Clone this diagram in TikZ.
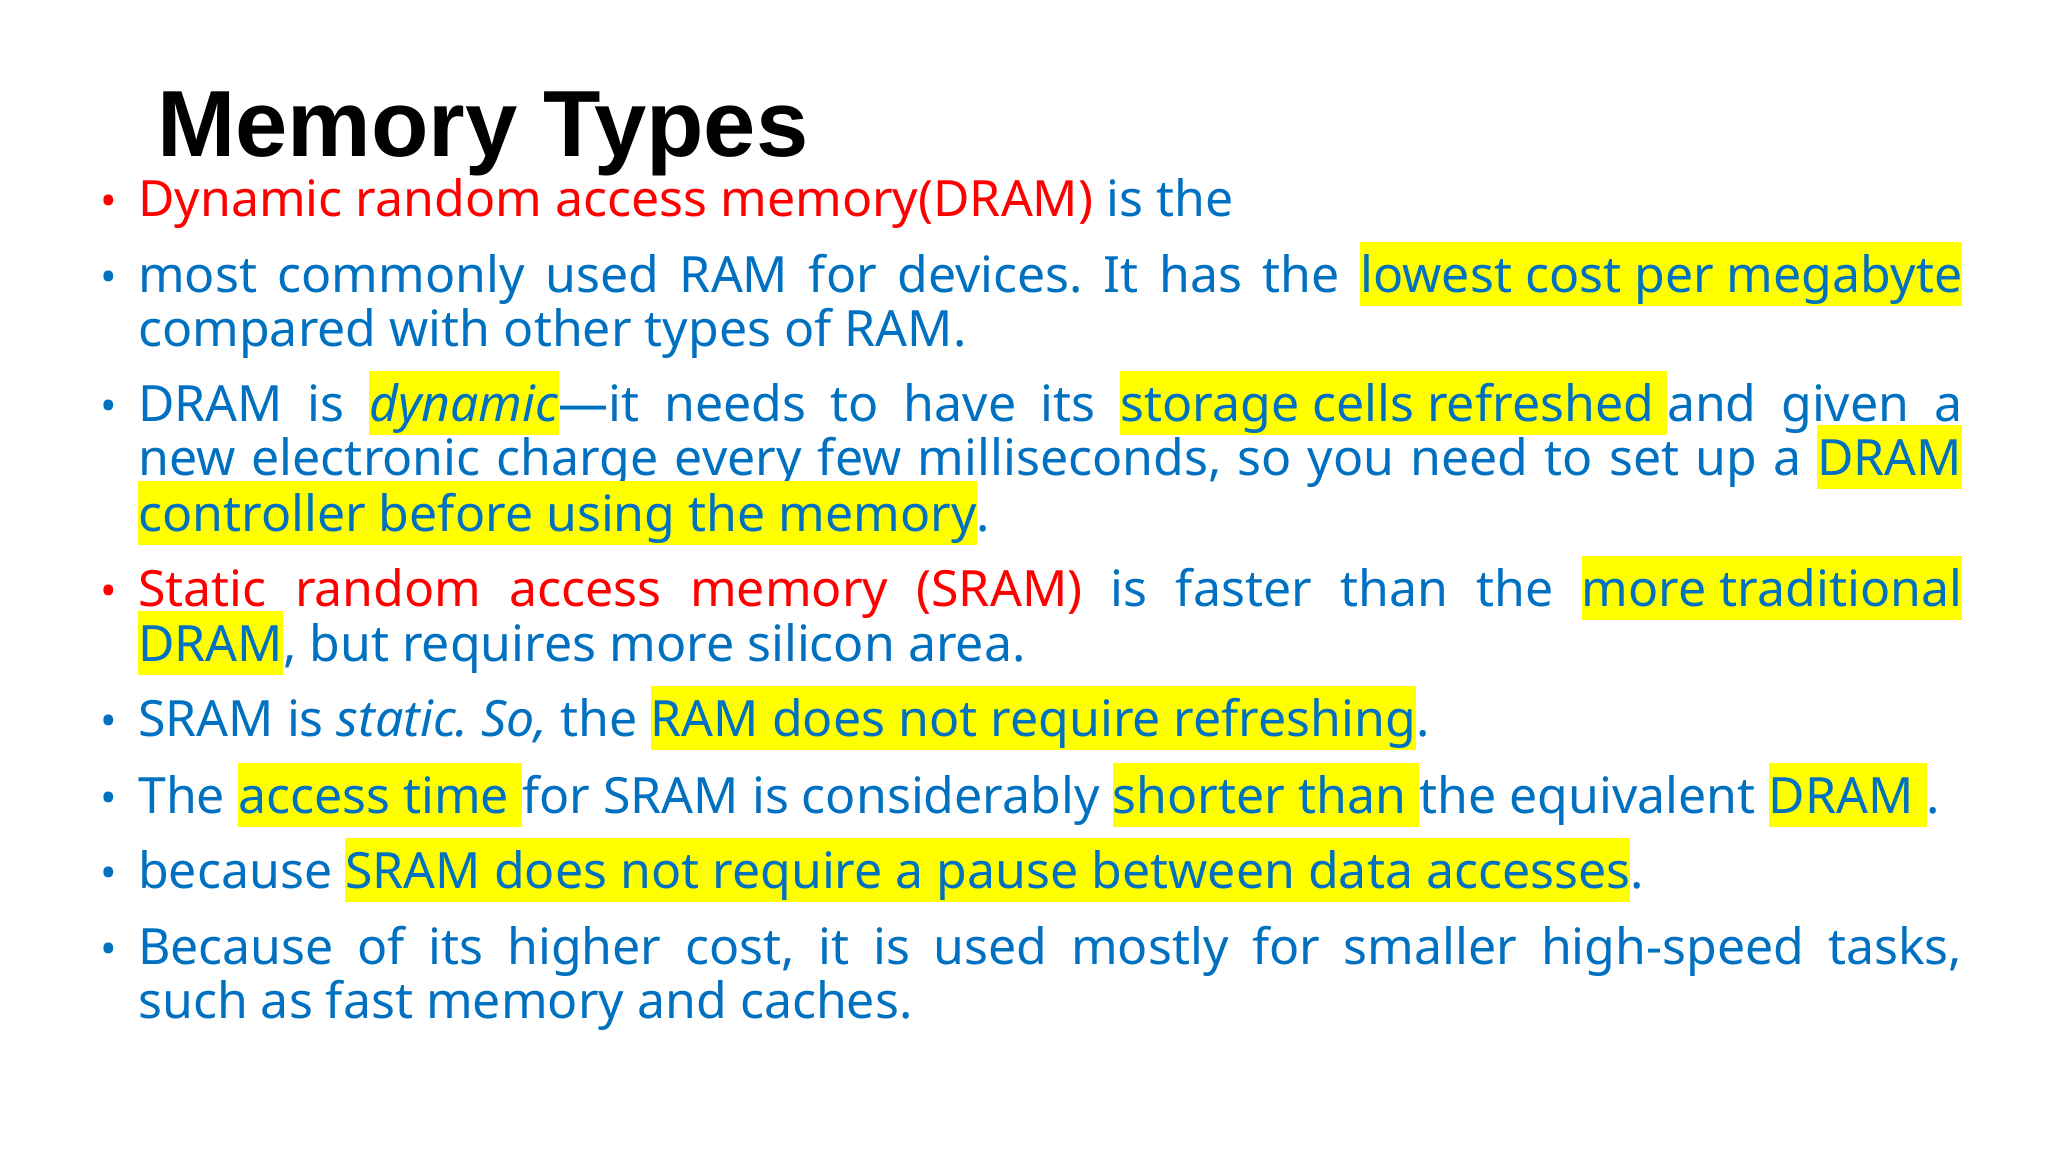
\documentclass[tikz,border=0pt]{standalone}
\usepackage{fontspec}
\setmainfont{Noto Sans}
\newfontfamily\titlefont{Liberation Sans}
\definecolor{tblue}{HTML}{0070C0}
\definecolor{tred}{HTML}{FF0000}
\definecolor{hly}{HTML}{FFFF00}
\newcommand{\hlx}[1]{{\setlength{\fboxsep}{0pt}\colorbox{hly}{\rule[-14bp]{0pt}{64bp}#1}}}
\newcommand{\jl}[1]{\makebox[1824bp][s]{#1}}
\frenchspacing
\begin{document}
\begin{tikzpicture}[x=1bp,y=-1bp,
  ln/.style={anchor=base west,inner sep=0pt,text=tblue,font=\frenchspacing\fontsize{50bp}{58bp}\selectfont},
  bul/.style={anchor=base,inner sep=0pt,font=\fontsize{44bp}{48bp}\selectfont}]
\useasboundingbox (0,0) rectangle (2048,1152);
\node[anchor=base west,inner sep=0pt,font=\titlefont\bfseries\fontsize{94bp}{110bp}\selectfont] (title) at (157,156) {Memory Types};
\foreach \y/\c in {216/tred,292/tblue,421/tblue,606/tred,736/tblue,813/tblue,888/tblue,964/tblue}
  \node[bul,text=\c] at (109,\y) {•};
\node[ln] (l1) at (138,216) {\textcolor{tred}{Dynamic random access memory(DRAM)} is the};
\node[ln] (l2) at (138,292) {\jl{most commonly used RAM for devices. It has the \hlx{lowest cost per megabyte}}};
\node[ln] (l3) at (138,346) {compared with other types of RAM.};
\node[ln] (l4) at (138,421) {\jl{DRAM is \hlx{\textit{dynamic}}—it needs to have its \hlx{storage cells refreshed }and given a}};
\node[ln] (l5) at (138,475) {\jl{new electronic charge every few milliseconds, so you need to set up a \hlx{DRAM}}};
\node[ln] (l6) at (138,531) {\hlx{controller before using the memory}.};
\node[ln] (l7) at (138,606) {\jl{\textcolor{tred}{Static random access memory (SRAM)} is faster than the \hlx{more traditional}}};
\node[ln] (l8) at (138,661) {\hlx{DRAM}, but requires more silicon area.};
\node[ln] (l9) at (138,736) {SRAM is \textit{static. So,} the \hlx{RAM does not require refreshing}.};
\node[ln] (l10) at (138,813) {The \hlx{access time }for SRAM is considerably \hlx{shorter than }the equivalent \hlx{DRAM }.};
\node[ln] (l11) at (138,888) {because \hlx{SRAM does not require a pause between data accesses}.};
\node[ln] (l12) at (138,964) {\jl{Because of its higher cost, it is used mostly for smaller high-speed tasks,}};
\node[ln] (l13) at (138,1018) {such as fast memory and caches.};
\end{tikzpicture}
\end{document}
